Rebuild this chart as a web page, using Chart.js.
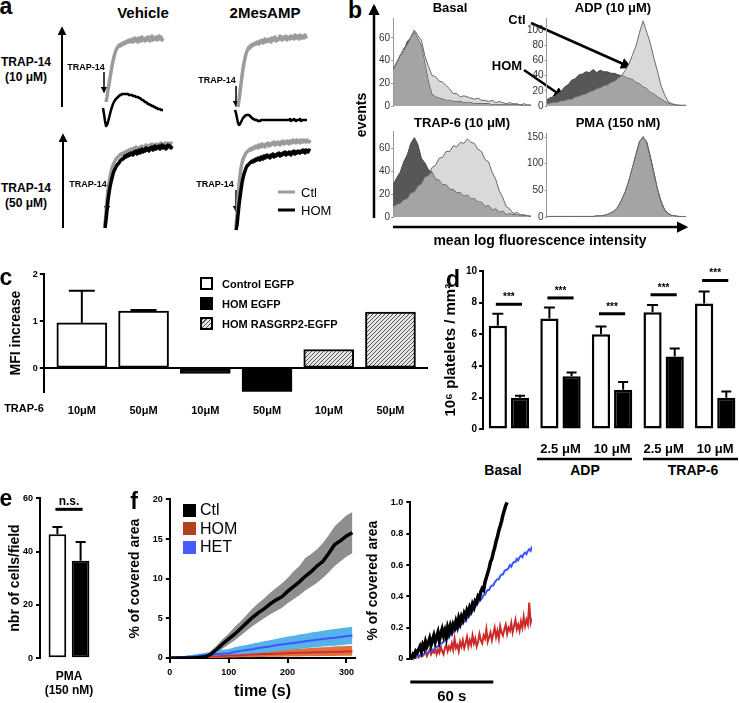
<!DOCTYPE html>
<html>
<head>
<meta charset="utf-8">
<title>RASGRP2 platelet figure</title>
<script src="https://cdn.jsdelivr.net/npm/chart.js@4.4.1/dist/chart.umd.min.js"></script>
<style>
  html, body { margin: 0; padding: 0; background: #fff; }
  #fig { position: relative; width: 739px; height: 703px; overflow: hidden;
         font-family: "Liberation Sans", Arial, Helvetica, sans-serif; color: #000; }
  #fig canvas { position: absolute; }
  #ann { position: absolute; left: 0; top: 0; }
  .t { position: absolute; white-space: nowrap; font-weight: bold; line-height: 1; }
  .sw { position: absolute; box-sizing: border-box; }
</style>
</head>
<body>
<div id="fig">
  <svg id="ann" width="739" height="703">
    <defs>
      <marker id="head" viewBox="0 0 10 10" refX="8" refY="5" markerWidth="4.5" markerHeight="4.5" orient="auto">
        <path d="M0,0 L10,5 L0,10 z" fill="#000"/>
      </marker>
    </defs>
    <g stroke="#000" fill="none">
      <!-- a: response axes -->
      <line x1="62" y1="107" x2="62" y2="28" stroke-width="2" marker-end="url(#head)"/>
      <line x1="63" y1="228" x2="63" y2="135" stroke-width="2" marker-end="url(#head)"/>
      <!-- a: agonist additions -->
      <line x1="104" y1="72" x2="104" y2="92" stroke-width="1.5" marker-end="url(#head)"/>
      <line x1="236" y1="86" x2="236" y2="106" stroke-width="1.5" marker-end="url(#head)"/>
      <line x1="107" y1="190" x2="107" y2="211" stroke-width="1.5" marker-end="url(#head)"/>
      <line x1="236" y1="190" x2="236" y2="211" stroke-width="1.5" marker-end="url(#head)"/>
      <!-- a: legend -->
      <line x1="278" y1="192" x2="295" y2="192" stroke="#9b9b9b" stroke-width="3"/>
      <line x1="278" y1="210" x2="295" y2="210" stroke-width="3"/>
      <!-- b: axes arrows -->
      <line x1="374" y1="218" x2="374" y2="6" stroke-width="2.5" marker-end="url(#head)"/>
      <line x1="393" y1="227" x2="686" y2="227" stroke-width="2.5" marker-end="url(#head)"/>
      <!-- b: Ctl / HOM pointers -->
      <line x1="531" y1="23" x2="630" y2="67" stroke-width="2.5" marker-end="url(#head)"/>
      <line x1="524" y1="70" x2="563" y2="97" stroke-width="2.5" marker-end="url(#head)"/>
      <!-- d: group underlines -->
      <line x1="537" y1="459" x2="632" y2="459" stroke-width="2.5"/>
      <line x1="643" y1="459" x2="738" y2="459" stroke-width="2.5"/>
    </g>
  </svg>
</div>
<script>
// ---------- data ----------

// a: aggregation traces (light transmission, % of full scale), one value per time unit
const aVehLowCtlStart = 6;
const aVehLowCtl = [28,33,40,46,52,58,64,69,73,77,80,82,83,85,84,86,85,87,86,88,
  87,89,88,90,88,89,91,88,90,92,89,91,88,92,90,89,93,90,91,89,92,90,93,91,89,92,94,90,92,91,93,90,92,94,91,93,90,92];
const aVehLowHomStart = 3;
const aVehLowHom = [22,16,9,4,5,8,12,16,20,23,26,28,30,31,32,33,34,35,35,36,
  36,36,36,36,36,36,35,35,35,35,34,34,34,33,33,33,32,32,31,30,30,29,28,28,27,26,26,25,25,24,24,23,23,22,22,21,21,21,20,20,20];
const aMesLowCtlStart = 6;
const aMesLowCtl = [23,30,38,46,54,61,67,72,76,79,81,83,82,85,84,86,85,87,86,88,
  87,86,89,88,90,87,89,91,88,90,89,91,90,88,92,90,91,93,89,91,90,92,94,91,90,93,91,92,94,90,
  92,93,91,94,92,93,91,95,92,94,93,91,95,93,92,94,92,95,93,94];
const aMesLowHomStart = 3;
const aMesLowHom = [20,17,12,7,5,6,8,10,12,13,14,15,15,15,15,14,13,12,11,11,10,10,10,9,9,9,10,10,10,10,
  10,10,10,10,10,10,10,10,10,10,10,10,10,10,10,10,10,10,10,10,10,10,10,10,10,11,9,10,10,11,10,9,10,10,10,11,9,10,10,10,10,10,10];
const aVehHighCtlStart = 5;
const aVehHighCtl = [10,22,35,45,52,58,63,67,70,72,74,76,77,78,79,80,81,80,82,81,
  83,82,84,83,85,84,86,85,84,87,86,88,85,87,86,88,87,89,86,88,87,90,88,89,87,90,89,91,88,90,
  89,91,90,88,91,90,92,89,91,90,92,91,89,92,91,90,92,91];
const aVehHighHomStart = 5;
const aVehHighHom = [7,15,25,35,42,48,53,57,61,64,66,68,70,71,72,74,75,76,76,77,
  79,78,80,79,81,80,82,81,80,83,82,84,81,83,85,82,84,86,83,85,84,87,85,86,84,87,86,88,85,87,
  89,86,88,87,89,86,88,90,87,89,88,86,89,90,88,89,87,89];
const aMesHighCtlStart = 4;
const aMesHighCtl = [8,20,35,50,60,67,72,76,78,80,82,83,84,85,86,85,87,86,88,87,
  89,88,87,90,89,88,91,89,90,88,91,90,92,89,91,90,92,91,93,90,92,91,93,92,90,93,92,94,91,93,
  92,94,92,91,94,93,92,95,93,94,92,95,93,94,92,95,94,93,95,94,93,95,94,93,95];
const aMesHighHomStart = 4;
const aMesHighHom = [5,10,20,30,38,45,52,57,61,64,67,69,70,71,72,73,74,73,75,74,
  76,75,77,76,75,78,77,76,79,77,78,80,78,79,77,80,79,81,78,80,79,81,80,82,79,81,80,82,81,83,
  80,82,81,83,82,80,83,82,84,81,83,82,84,83,82,84,83,85,84,82,85,84,83,85,84];

// b: flow cytometry histograms (events per bin, 40 bins over the log axis)
const basalCtl = [32,39,44,51,54,61,67,62,58,44,35,27,26,22,21,18,15,11,11,8,9,8,7,6,7,5,5,4,5,3,4,3,2,3,2,2,1,2,1,1];
const basalHom = [33,37,45,48,57,60,65,59,53,37,21,10,8,7,6,5,5,4,4,4,3,3,3,2,2,2,2,2,1,1,1,1,1,1,1,1,1,0,0,0];
const adpCtl = [3,4,5,5,7,7,9,9,12,13,15,16,19,20,23,24,27,28,31,33,37,40,47,55,67,79,97,112,97,83,63,46,27,15,6,3,2,1,1,1];
const adpHom = [8,11,12,16,19,25,28,34,36,41,42,45,44,48,44,47,45,45,43,43,41,40,38,36,35,31,29,25,23,18,16,12,9,6,4,2,1,1,0,0];
const trapCtl = [9,11,12,15,16,21,22,27,29,35,36,43,45,51,52,57,57,62,61,65,64,68,65,64,59,57,50,48,39,33,23,17,9,7,3,4,2,2,1,1];
const trapHom = [28,34,39,48,54,64,69,63,51,47,41,39,33,32,28,28,24,24,21,21,18,19,16,16,13,13,9,10,6,7,4,5,2,3,2,2,1,1,1,0];
const pmaCtl = [1,1,1,1,1,1,1,1,1,1,1,1,1,1,2,2,3,5,8,12,20,33,48,69,93,117,141,151,139,111,82,51,28,13,6,3,2,1,1,0];
const pmaHom = [1,1,1,1,1,1,1,1,1,1,1,1,1,1,2,2,3,4,7,11,19,31,47,66,91,118,142,149,141,114,84,53,30,14,7,3,2,1,1,0];

// c: MFI increase after TRAP-6
const cLabels = ['10μM', '50μM', '10μM', '50μM', '10μM', '50μM'];
const cGroups = ['Control EGFP', 'HOM EGFP', 'HOM RASGRP2-EGFP'];
const cGroupOf = [0, 0, 1, 1, 2, 2];
const cValues = [0.97, 1.22, -0.11, -0.5, 0.4, 1.2];
const cErr = [0.68, 0.02, 0, 0, 0, 0];

// d: adhesion under flow
const dLabels = ['', '2.5 μM', '10 μM', '2.5 μM', '10 μM'];
const dCtl = [6.55, 7.0, 6.0, 7.4, 7.95];
const dCtlErr = [0.75, 0.7, 0.5, 0.45, 0.75];
const dHom = [2.0, 3.35, 2.5, 4.6, 2.0];
const dHomErr = [0.12, 0.25, 0.5, 0.5, 0.4];
const dSig = [7.9, 8.3, 7.3, 8.5, 9.4];

// e: spreading on PMA
const eLabels = [['PMA', '(150 nM)']];
const eCtl = [46.5], eCtlErr = [2.8];
const eHom = [36.6], eHomErr = [7.0];
const eSig = 55.9;

// f: covered area over time (mean and band)
const fTime = [0,10,20,30,40,50,60,70,80,90,100,110,120,130,140,150,160,170,180,190,200,210,220,230,240,250,260,270,280,290,300,310];
const fCtl   = [0,0,0,0,0,0.05,0.15,0.5,1.1,1.8,2.4,3.0,3.7,4.4,5.1,5.7,6.2,6.8,7.3,7.7,8.4,9.0,9.6,10.3,10.9,11.6,12.2,13.2,14.3,14.8,15.4,15.8];
const fCtlHi = [0,0,0,0,0.1,0.2,0.4,0.9,1.6,2.4,3.1,3.9,4.6,5.4,6.2,6.9,7.5,8.2,8.8,9.4,10.1,10.9,11.6,12.6,13.1,13.7,14.5,15.5,16.6,17.3,18.0,18.4];
const fCtlLo = [0,0,0,0,0,0,0,0.2,0.6,1.2,1.7,2.2,2.8,3.4,4.0,4.5,5.0,5.5,5.9,6.3,6.9,7.4,7.9,8.5,9.0,9.5,10.1,10.8,11.6,12.2,12.8,13.2];
const fHet   = [0,0.05,0.1,0.15,0.2,0.3,0.35,0.4,0.5,0.55,0.6,0.75,0.9,1.0,1.1,1.25,1.35,1.45,1.6,1.7,1.8,1.9,2.0,2.1,2.2,2.3,2.4,2.5,2.55,2.65,2.75,2.85];
const fHetHi = [0,0.1,0.2,0.3,0.4,0.55,0.65,0.8,0.95,1.05,1.15,1.35,1.5,1.65,1.8,1.95,2.1,2.25,2.4,2.55,2.7,2.8,2.95,3.05,3.2,3.3,3.45,3.55,3.65,3.75,3.85,3.95];
const fHetLo = [0,0,0,0,0,0.05,0.1,0.1,0.15,0.2,0.2,0.3,0.4,0.45,0.5,0.6,0.7,0.75,0.85,0.95,1.0,1.1,1.15,1.25,1.3,1.4,1.45,1.5,1.55,1.6,1.7,1.75];
const fHom   = [0,0,0.02,0.05,0.08,0.1,0.15,0.18,0.2,0.25,0.3,0.33,0.36,0.4,0.43,0.46,0.5,0.52,0.55,0.57,0.6,0.62,0.65,0.67,0.7,0.72,0.74,0.76,0.78,0.8,0.82,0.84];
const fHomHi = [0,0.05,0.1,0.15,0.2,0.25,0.3,0.35,0.4,0.47,0.55,0.6,0.65,0.7,0.75,0.8,0.87,0.92,0.97,1.02,1.07,1.12,1.17,1.22,1.27,1.32,1.36,1.4,1.44,1.48,1.52,1.55];
const fHomLo = [0,0,0,0,0,0,0,0,0,0.03,0.05,0.07,0.08,0.1,0.11,0.12,0.14,0.15,0.16,0.17,0.18,0.19,0.2,0.21,0.22,0.23,0.24,0.25,0.26,0.27,0.28,0.29];

// f inset: single recordings, one value per second
const fZoomCtl = [0.00,0.01,0.03,0.02,0.05,0.04,0.06,0.08,0.05,0.09,
  0.07,0.11,0.08,0.10,0.13,0.09,0.12,0.15,0.11,0.14,
  0.17,0.12,0.16,0.19,0.15,0.18,0.14,0.20,0.17,0.21,
  0.18,0.22,0.20,0.24,0.21,0.26,0.23,0.27,0.25,0.29,
  0.27,0.31,0.29,0.33,0.31,0.35,0.33,0.37,0.36,0.40,
  0.39,0.43,0.45,0.44,0.49,0.52,0.55,0.58,0.62,0.64,
  0.68,0.71,0.75,0.78,0.82,0.85,0.88,0.92,0.95,0.98,1.00];
const fZoomHet = [0,0.00,0.01,0.01,0.01,0.02,0.02,0.02,0.03,0.03,
  0.03,0.04,0.04,0.04,0.05,0.05,0.06,0.06,0.07,0.08,
  0.08,0.09,0.10,0.10,0.11,0.12,0.13,0.13,0.14,0.16,
  0.16,0.17,0.18,0.19,0.19,0.20,0.21,0.22,0.23,0.24,
  0.24,0.26,0.27,0.28,0.29,0.31,0.32,0.33,0.35,0.36,
  0.37,0.38,0.39,0.41,0.41,0.43,0.44,0.44,0.46,0.47,
  0.47,0.49,0.50,0.51,0.51,0.53,0.54,0.54,0.56,0.57,
  0.57,0.58,0.60,0.59,0.61,0.62,0.62,0.64,0.63,0.65,
  0.66,0.65,0.67,0.68,0.67,0.69,0.70,0.69,0.72];
const fZoomHom = [0,0.01,0.00,0.02,0.01,0.03,0.01,0.02,0.04,0.02,
  0.03,0.05,0.02,0.04,0.06,0.03,0.05,0.04,0.07,0.03,
  0.06,0.04,0.08,0.05,0.03,0.07,0.09,0.05,0.08,0.06,
  0.10,0.06,0.13,0.07,0.09,0.05,0.11,0.08,0.12,0.07,
  0.10,0.14,0.08,0.12,0.09,0.15,0.10,0.13,0.08,0.11,
  0.16,0.12,0.10,0.15,0.13,0.19,0.11,0.14,0.17,0.12,
  0.16,0.20,0.14,0.18,0.13,0.21,0.17,0.15,0.19,0.22,
  0.16,0.20,0.18,0.23,0.17,0.21,0.25,0.19,0.22,0.18,
  0.24,0.20,0.27,0.21,0.25,0.22,0.36,0.23,0.26];
const fScaleBar = 60;

// ---------- setup ----------
Chart.defaults.font.family = '"Liberation Sans", Arial, Helvetica, sans-serif';
Chart.defaults.color = '#000';
Chart.defaults.animation = false;
Chart.defaults.responsive = false;
Chart.defaults.events = [];
Chart.defaults.plugins.legend.display = false;
Chart.defaults.plugins.tooltip.enabled = false;

const fig = document.getElementById('fig');

// Build a chart so that its plot area lands on box = [left, top, right, bottom]
function makeChart(box, build) {
  const cv = document.createElement('canvas');
  cv.width = box[2] - box[0] + 160;
  cv.height = box[3] - box[1] + 120;
  fig.appendChild(cv);
  const probe = new Chart(cv, build());
  const a = probe.chartArea;
  const l = a.left, t = a.top, r = probe.width - a.right, b = probe.height - a.bottom;
  probe.destroy();
  cv.width = Math.round(box[2] - box[0] + l + r);
  cv.height = Math.round(box[3] - box[1] + t + b);
  cv.style.left = Math.round(box[0] - l) + 'px';
  cv.style.top = Math.round(box[1] - t) + 'px';
  return new Chart(cv, build());
}

function txt(s, x, y, size, o = {}) {
  const d = document.createElement('div');
  d.className = 't';
  d.textContent = s;
  d.style.left = x + 'px';
  d.style.top = y + 'px';
  d.style.fontSize = size + 'px';
  if (o.normal) d.style.fontWeight = 'normal';
  const ax = o.left ? '0' : '-50%';
  d.style.transform = `translate(${ax}, -50%)` + (o.rot ? ` rotate(${o.rot}deg)` : '');
  fig.appendChild(d);
}

function swatch(x, y, w, h, bg, border) {
  const d = document.createElement('div');
  d.className = 'sw';
  Object.assign(d.style, { left: x + 'px', top: y + 'px', width: w + 'px', height: h + 'px', background: bg });
  if (border) d.style.border = border;
  fig.appendChild(d);
}

function hatchPattern() {
  const p = document.createElement('canvas');
  p.width = 4; p.height = 4;
  const g = p.getContext('2d');
  g.fillStyle = '#e6e6e6';
  g.fillRect(0, 0, 4, 4);
  g.strokeStyle = '#555';
  g.lineWidth = 1;
  g.beginPath();
  g.moveTo(0, 4); g.lineTo(4, 0);
  g.moveTo(-1, 1); g.lineTo(1, -1);
  g.moveTo(3, 5); g.lineTo(5, 3);
  g.stroke();
  return g.createPattern(p, 'repeat');
}

// error bars drawn from each bar top up to value + err
function errorBars(errLists, caps) {
  return {
    id: 'errorBars',
    afterDatasetsDraw(chart) {
      const ctx = chart.ctx, y = chart.scales.y;
      ctx.save();
      ctx.strokeStyle = '#000';
      ctx.lineWidth = 2;
      errLists.forEach((errs, ds) => {
        chart.getDatasetMeta(ds).data.forEach((bar, i) => {
          const e = errs[i];
          if (!e) return;
          const raw = chart.data.datasets[ds].data[i];
          const v = typeof raw === 'object' ? raw.y : raw;
          const top = y.getPixelForValue(v + e);
          const w = (Array.isArray(caps[ds]) ? caps[ds][i] : caps[ds]) / 2;
          ctx.beginPath();
          ctx.moveTo(bar.x, bar.y);
          ctx.lineTo(bar.x, top);
          ctx.moveTo(bar.x - w, top);
          ctx.lineTo(bar.x + w, top);
          ctx.stroke();
        });
      });
      ctx.restore();
    }
  };
}

// significance bar between the two bars of a group
function sigBars(levels, label, fontSize) {
  return {
    id: 'sigBars',
    afterDatasetsDraw(chart) {
      const ctx = chart.ctx, y = chart.scales.y;
      const m0 = chart.getDatasetMeta(0).data, m1 = chart.getDatasetMeta(1).data;
      ctx.save();
      ctx.strokeStyle = '#000';
      ctx.fillStyle = '#000';
      ctx.lineWidth = 3;
      ctx.font = `bold ${fontSize}px "Liberation Sans", Arial, sans-serif`;
      ctx.textAlign = 'center';
      ctx.textBaseline = 'bottom';
      levels.forEach((lv, i) => {
        const py = y.getPixelForValue(lv);
        const x0 = m0[i].x - 2, x1 = m1[i].x + 2;
        ctx.beginPath();
        ctx.moveTo(x0, py);
        ctx.lineTo(x1, py);
        ctx.stroke();
        ctx.fillText(label, (x0 + x1) / 2, py - 2);
      });
      ctx.restore();
    }
  };
}

// ---------- a: aggregation traces ----------
function traceConfig(ctlStart, ctl, homStart, hom, homWidth) {
  const pts = (start, arr) => arr.map((v, i) => ({ x: start + i, y: v }));
  return () => ({
    type: 'line',
    data: {
      datasets: [
        { data: pts(homStart, hom), borderColor: '#000', borderWidth: homWidth, pointRadius: 0, clip: false, borderJoinStyle: 'round' },
        { data: pts(ctlStart, ctl), borderColor: '#9b9b9b', borderWidth: 3.5, pointRadius: 0, clip: false, borderJoinStyle: 'round' }
      ]
    },
    options: {
      layout: { padding: 0 },
      scales: {
        x: { type: 'linear', display: false, min: 0, max: 80 },
        y: { display: false, min: 0, max: 100 }
      }
    }
  });
}

makeChart([100, 30, 180, 130], traceConfig(aVehLowCtlStart, aVehLowCtl, aVehLowHomStart, aVehLowHom, 2.5));
makeChart([232, 30, 312, 130], traceConfig(aMesLowCtlStart, aMesLowCtl, aMesLowHomStart, aMesLowHom, 2.5));
makeChart([100, 135, 180, 235], traceConfig(aVehHighCtlStart, aVehHighCtl, aVehHighHomStart, aVehHighHom, 3.5));
makeChart([232, 135, 312, 235], traceConfig(aMesHighCtlStart, aMesHighCtl, aMesHighHomStart, aMesHighHom, 3.5));

// ---------- b: histograms ----------
function histConfig(ctl, hom, ymax, step) {
  const pts = arr => arr.map((v, i) => ({ x: i / (arr.length - 1), y: v }));
  const overlap = ctl.map((v, i) => Math.min(v, hom[i]));
  return () => ({
    type: 'line',
    data: {
      datasets: [
        { data: pts(ctl), fill: false, borderColor: '#6a6a6a', borderWidth: 1, pointRadius: 0 },
        { data: pts(overlap), fill: 'origin', backgroundColor: '#a4a4a4', borderWidth: 0, pointRadius: 0 },
        { data: pts(hom), fill: 'origin', backgroundColor: '#575757', borderColor: '#474747', borderWidth: 1, pointRadius: 0 },
        { data: pts(ctl), fill: 'origin', backgroundColor: '#d9d9d9', borderWidth: 0, pointRadius: 0 }
      ]
    },
    options: {
      layout: { padding: 0 },
      scales: {
        x: { type: 'linear', display: false, min: 0, max: 1 },
        y: {
          min: 0, max: ymax,
          ticks: { stepSize: step, includeBounds: false, color: '#333', font: { size: 10 }, padding: 1 },
          grid: { drawOnChartArea: false, color: '#999', tickLength: 2 },
          border: { color: '#999', width: 1 }
        }
      }
    }
  });
}

makeChart([393, 18, 531, 106], histConfig(basalCtl, basalHom, 77.6, 20));
makeChart([547, 18, 686, 106], histConfig(adpCtl, adpHom, 115.8, 20));
makeChart([393, 131, 531, 217], histConfig(trapCtl, trapHom, 74.8, 20));
makeChart([547, 133, 686, 217], histConfig(pmaCtl, pmaHom, 157.5, 50));

// ---------- c: MFI increase ----------
makeChart([44, 274, 428, 391], () => {
  const fills = ['#fff', '#000', hatchPattern()];
  return {
    type: 'bar',
    data: {
      datasets: [{
        data: cValues.map((v, i) => ({ x: i + 1, y: v })),
        backgroundColor: cGroupOf.map(g => fills[g]),
        borderColor: '#000',
        borderWidth: 2,
        borderSkipped: false,
        barThickness: 50
      }]
    },
    options: {
      layout: { padding: 0 },
      scales: {
        x: {
          type: 'linear', min: 0.384, max: 6.608, offset: false,
          ticks: { stepSize: 1, includeBounds: false, callback: v => cLabels[v - 1] || '', font: { size: 11, weight: 'bold' }, padding: 5, maxRotation: 0, autoSkip: false },
          grid: { display: false },
          border: { display: false }
        },
        y: {
          min: -0.5, max: 2,
          ticks: { stepSize: 1, includeBounds: false, font: { size: 9, weight: 'bold' }, padding: 2 },
          grid: { color: c => (c.tick && c.tick.value === 0 ? '#000' : 'rgba(0,0,0,0)'), lineWidth: 2, tickColor: '#000', tickLength: 4 },
          border: { color: '#000', width: 2 },
          title: { display: true, text: 'MFI increase', font: { size: 14, weight: 'bold' }, padding: { top: 0, bottom: 6 } }
        }
      }
    },
    plugins: [errorBars([cErr], [26])]
  };
});

// ---------- d: adhesion ----------
makeChart([483, 271, 741, 429], () => ({
  type: 'bar',
  data: {
    labels: dLabels,
    datasets: [
      { data: dCtl, backgroundColor: '#fff', borderColor: '#000', borderWidth: 2.5, borderSkipped: false },
      { data: dHom, backgroundColor: '#000', borderColor: '#000', borderWidth: 2.5, borderSkipped: false }
    ]
  },
  options: {
    layout: { padding: 0 },
    datasets: { bar: { categoryPercentage: 0.86, barPercentage: 0.82 } },
    scales: {
      x: {
        grid: { display: false },
        border: { display: false },
        ticks: { font: { size: 13, weight: 'bold' }, padding: 4, maxRotation: 0, autoSkip: false }
      },
      y: {
        min: 0, max: 10,
        ticks: { stepSize: 2, font: { size: 10, weight: 'bold' }, padding: 2 },
        grid: { drawOnChartArea: false, tickColor: '#000', tickLength: 4, lineWidth: 2 },
        border: { color: '#000', width: 2 },
        title: { display: true, text: '10⁶ platelets / mm²', font: { size: 15, weight: 'bold' }, padding: { top: 0, bottom: 4 } }
      }
    }
  },
  plugins: [errorBars([dCtlErr, dHomErr], [11, 10]), sigBars(dSig, '***', 10)]
}));

// ---------- e: spreading ----------
makeChart([40, 498, 98, 658], () => ({
  type: 'bar',
  data: {
    labels: eLabels,
    datasets: [
      { data: eCtl, backgroundColor: '#fff', borderColor: '#000', borderWidth: 2, borderSkipped: false },
      { data: eHom, backgroundColor: '#000', borderColor: '#000', borderWidth: 2, borderSkipped: false }
    ]
  },
  options: {
    layout: { padding: 0 },
    datasets: { bar: { categoryPercentage: 0.8, barPercentage: 0.76 } },
    scales: {
      x: {
        grid: { display: false },
        border: { display: false },
        ticks: { font: { size: 12, weight: 'bold' }, padding: 3, maxRotation: 0 }
      },
      y: {
        min: 0, max: 60,
        ticks: { stepSize: 20, font: { size: 9, weight: 'bold' }, padding: 3 },
        grid: { drawOnChartArea: false, tickColor: '#000', tickLength: 4, lineWidth: 2 },
        border: { color: '#000', width: 2 }
      }
    }
  },
  plugins: [errorBars([eCtlErr, eHomErr], [10, 10]), sigBars([eSig], 'n.s.', 12)]
}));

// ---------- f: covered area over time ----------
makeChart([170, 499, 358, 658], () => {
  const pts = arr => arr.map((v, i) => ({ x: fTime[i], y: v }));
  const line = (arr, color, w) => ({ data: pts(arr), borderColor: color, borderWidth: w, pointRadius: 0, fill: false });
  const band = (arr, color, fill) => ({ data: pts(arr), borderWidth: 0, pointRadius: 0, backgroundColor: color, fill: fill });
  return {
    type: 'line',
    data: {
      datasets: [
        line(fCtl, '#000', 3.5),
        line(fHet, '#3c56ff', 2),
        line(fHom, '#c8322a', 2),
        band(fHetHi, '#55b3ea', '+1'),
        band(fHetLo, '#55b3ea', false),
        band(fHomHi, '#e2703e', '+1'),
        band(fHomLo, '#e2703e', false),
        band(fCtlHi, '#8e8e8e', '+1'),
        band(fCtlLo, '#8e8e8e', false)
      ]
    },
    options: {
      layout: { padding: 0 },
      scales: {
        x: {
          type: 'linear', min: 0, max: 315,
          ticks: { stepSize: 100, includeBounds: false, font: { size: 9, weight: 'bold' }, padding: 4, maxRotation: 0 },
          grid: { drawOnChartArea: false, tickColor: '#000', tickLength: 5, lineWidth: 2 },
          border: { color: '#000', width: 2 },
          title: { display: true, text: 'time (s)', font: { size: 16, weight: 'bold' }, padding: { top: 0, bottom: 0 } }
        },
        y: {
          min: 0, max: 20,
          ticks: { stepSize: 5, font: { size: 9, weight: 'bold' }, padding: 3 },
          grid: { drawOnChartArea: false, tickColor: '#000', tickLength: 4, lineWidth: 2 },
          border: { color: '#000', width: 2 },
          title: { display: true, text: '% of covered area', font: { size: 14, weight: 'bold' }, padding: { top: 0, bottom: 6 } }
        }
      }
    }
  };
});

makeChart([410, 502, 532, 659], () => {
  const pts = arr => arr.map((v, i) => ({ x: i, y: v }));
  const scaleBar = {
    id: 'scaleBar',
    afterDraw(chart) {
      const ctx = chart.ctx, x = chart.scales.x;
      const y0 = chart.chartArea.bottom + 23;
      const x0 = x.getPixelForValue(0), x1 = x.getPixelForValue(fScaleBar);
      ctx.save();
      ctx.strokeStyle = '#000';
      ctx.lineWidth = 3;
      ctx.beginPath();
      ctx.moveTo(x0, y0);
      ctx.lineTo(x1, y0);
      ctx.stroke();
      ctx.fillStyle = '#000';
      ctx.font = 'bold 15px "Liberation Sans", Arial, sans-serif';
      ctx.textAlign = 'center';
      ctx.textBaseline = 'middle';
      ctx.fillText(fScaleBar + ' s', (x0 + x1) / 2, y0 + 15);
      ctx.restore();
    }
  };
  return {
    type: 'line',
    data: {
      datasets: [
        { data: pts(fZoomCtl), borderColor: '#000', borderWidth: 3.5, pointRadius: 0, clip: false },
        { data: pts(fZoomHet), borderColor: '#3c56ff', borderWidth: 2, pointRadius: 0, clip: false },
        { data: pts(fZoomHom), borderColor: '#cc2a2a', borderWidth: 2, pointRadius: 0, clip: false }
      ]
    },
    options: {
      layout: { padding: { bottom: 45 } },
      scales: {
        x: { type: 'linear', display: false, min: 0, max: 88 },
        y: {
          min: 0, max: 1,
          ticks: { stepSize: 0.2, font: { size: 9, weight: 'bold' }, padding: 3, callback: v => (v === 0 ? '0' : v.toFixed(1)) },
          grid: { drawOnChartArea: false, tickColor: '#000', tickLength: 4, lineWidth: 2 },
          border: { color: '#000', width: 2 },
          title: { display: true, text: '% of covered area', font: { size: 14, weight: 'bold' }, padding: { top: 0, bottom: 6 } }
        }
      }
    },
    plugins: [scaleBar]
  };
});

// ---------- text ----------
// panel letters
txt('a', 6, 6, 23);
txt('b', 355, 10, 23);
txt('c', 6, 277, 23);
txt('d', 453, 279, 23);
txt('e', 6, 498, 23);
txt('f', 134, 501, 23);

// a
txt('Vehicle', 143, 12, 15);
txt('2MesAMP', 265, 12, 15);
txt('TRAP-14', 26, 62, 12);
txt('(10 μM)', 26, 77, 12);
txt('TRAP-14', 26, 188, 12);
txt('(50 μM)', 26, 203, 12);
txt('TRAP-14', 86, 67, 9);
txt('TRAP-14', 217, 80, 9);
txt('TRAP-14', 88, 184, 9);
txt('TRAP-14', 215, 184, 9);
txt('Ctl', 301, 192, 13, { left: true, normal: true });
txt('HOM', 301, 210, 13, { left: true, normal: true });

// b
txt('Basal', 450, 7, 13);
txt('ADP (10 μM)', 613, 7, 13);
txt('TRAP-6 (10 μM)', 462, 122, 13);
txt('PMA (150 nM)', 618, 122, 13);
txt('events', 361, 115, 14, { rot: -90 });
txt('Ctl', 517, 19, 13);
txt('HOM', 507, 65, 13);
txt('mean log fluorescence intensity', 540, 240, 14);

// c
txt('TRAP-6', 24, 408, 11);
const cFills = ['#fff', '#000', 'repeating-linear-gradient(-45deg, #555 0 1px, #e6e6e6 1px 3px)'];
cGroups.forEach((g, i) => {
  const y = 277 + i * 20;
  swatch(200, y, 13, 13, cFills[i], '2px solid #000');
  txt(g, 222, y + 7, 11, { left: true });
});

// d
txt('Basal', 503, 470, 14);
txt('ADP', 585, 470, 14);
txt('TRAP-6', 693, 470, 14);

// e
txt('nbr of cells/field', 14, 578, 14, { rot: -90 });

// f legend
const fLegend = [['Ctl', '#000'], ['HOM', '#b5401f'], ['HET', '#4a5bff']];
fLegend.forEach(([name, color], i) => {
  const y = 510 + i * 18.5;
  swatch(183, y - 6.5, 13, 13, color);
  txt(name, 200, y, 16, { left: true, normal: true });
});
</script>
</body>
</html>
